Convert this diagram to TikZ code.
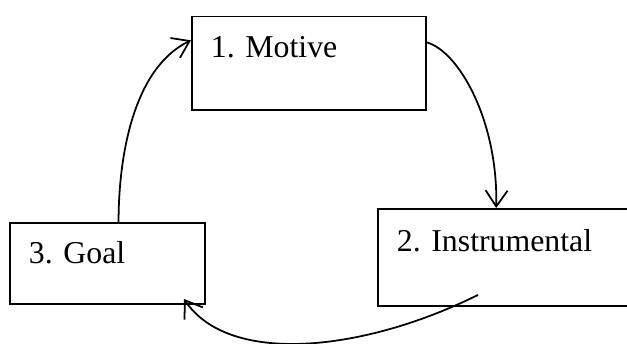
\documentclass[tikz,border=0pt]{standalone}
\usepackage{fontspec}
\setmainfont{Liberation Serif}
\usetikzlibrary{arrows.meta,calc}
\frenchspacing

\begin{document}
\begin{tikzpicture}[x=0.02cm, y=-0.02cm,
  box/.style={draw, line width=1.1pt, rectangle, anchor=north west, align=left,
    inner xsep=0.38cm, inner ysep=0pt, font=\fontsize{18.1}{20}\selectfont},
  link/.style={line width=1pt, -{Straight Barb[length=0.32cm, width=0.44cm, line width=1pt]}}]
\useasboundingbox (0,0) rectangle (627,343);
\clip (0,0) rectangle (627,343);
\node[box, text width=3.92cm, text height=0.83cm, text depth=1.04cm] (motive) at (191,15.5) {1. Motive};
\node[box, text width=4.5cm, text height=0.86cm, text depth=1.08cm] (instr) at (377,208) {2. Instrumental};
\node[box, text width=3.14cm, text height=0.82cm, text depth=0.8cm] (goal) at (9,222) {3. Goal};
\draw[link] (goal.75.5) .. controls +(0,-65) and +(-58,28) .. (motive.169);
\draw[link] (motive.10) .. controls +(32,9) and +(2,-87) .. (instr.105);
\draw[link] ($(instr.south west)+(101,-12)$) .. controls +(-115,57) and +(45,67) .. ($(goal.south east)+(-22,-6)$);
\end{tikzpicture}
\end{document}
